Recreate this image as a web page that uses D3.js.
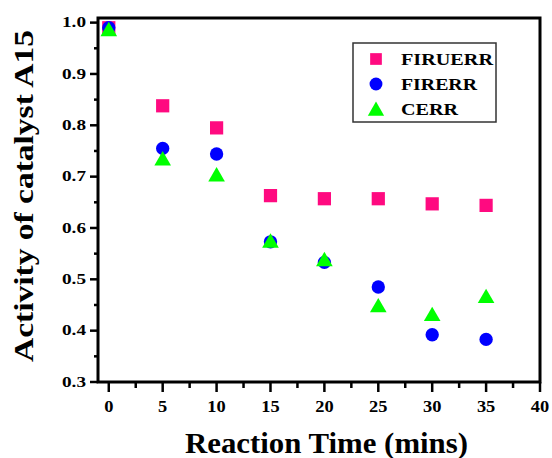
<!DOCTYPE html>
<html><head><meta charset="utf-8">
<script src="https://cdn.jsdelivr.net/npm/d3@7"></script>
<style>body{margin:0;background:#fff}svg{display:block}</style>
</head><body>
<script>
const times = [0, 5, 10, 15, 20, 25, 30, 35];
const firuerr = [0.990, 0.838, 0.795, 0.663, 0.657, 0.657, 0.647, 0.644];
const firerr  = [0.990, 0.755, 0.744, 0.573, 0.533, 0.485, 0.392, 0.383];
const cerr    = [0.983, 0.731, 0.700, 0.571, 0.535, 0.445, 0.428, 0.463];
const xTicks = [0, 5, 10, 15, 20, 25, 30, 35, 40];
const yTicks = [0.3, 0.4, 0.5, 0.6, 0.7, 0.8, 0.9, 1.0];
const seriesNames = ["FIRUERR", "FIRERR", "CERR"];

const W = 552, H = 458;
const L = 98, R = 540, T = 18, B = 382;
const svg = d3.select("body").append("svg").attr("width", W).attr("height", H);
const font = "'Liberation Serif','Times New Roman',serif";

const x = d3.scaleLinear().domain([-1, 40]).range([L, R]);
const y = d3.scaleLinear().domain([0.3, 1.009]).range([B, T]);

// minor ticks
const xMinor = d3.range(2.5, 40, 5);
const yMinor = d3.range(0.35, 1.0, 0.1);
svg.append("g").selectAll("line").data(xMinor).join("line")
  .attr("x1", d => x(d)).attr("x2", d => x(d)).attr("y1", B).attr("y2", B + 6)
  .attr("stroke", "#000").attr("stroke-width", 2.5);
svg.append("g").selectAll("line").data(xTicks).join("line")
  .attr("x1", d => x(d)).attr("x2", d => x(d)).attr("y1", B).attr("y2", B + 10)
  .attr("stroke", "#000").attr("stroke-width", 2.5);
svg.append("g").selectAll("line").data(yMinor).join("line")
  .attr("x1", L - 4).attr("x2", L).attr("y1", d => y(d)).attr("y2", d => y(d))
  .attr("stroke", "#000").attr("stroke-width", 2.5);
svg.append("g").selectAll("line").data(yTicks).join("line")
  .attr("x1", L - 8).attr("x2", L).attr("y1", d => y(d)).attr("y2", d => y(d))
  .attr("stroke", "#000").attr("stroke-width", 2.5);

// frame
svg.append("rect").attr("x", L).attr("y", T).attr("width", R - L).attr("height", B - T)
  .attr("fill", "none").attr("stroke", "#000").attr("stroke-width", 3);

// tick labels
svg.append("g").selectAll("text").data(xTicks).join("text")
  .attr("x", d => x(d)).attr("y", 412).attr("text-anchor", "middle")
  .attr("font-family", font).attr("font-weight", "bold").attr("font-size", 16)
  .attr("textLength", d => String(d).length * 9.2).attr("lengthAdjust", "spacingAndGlyphs")
  .text(d => d);
svg.append("g").selectAll("text").data(yTicks).join("text")
  .attr("x", 86).attr("y", d => y(d) + 4.8).attr("text-anchor", "end")
  .attr("font-family", font).attr("font-weight", "bold").attr("font-size", 14)
  .attr("textLength", 24).attr("lengthAdjust", "spacingAndGlyphs")
  .text(d => d.toFixed(1));

// axis titles
svg.append("text").attr("x", 326.5).attr("y", 453).attr("text-anchor", "middle")
  .attr("font-family", font).attr("font-weight", "bold").attr("font-size", 29)
  .attr("textLength", 283).attr("lengthAdjust", "spacingAndGlyphs")
  .text("Reaction Time (mins)");
svg.append("text").attr("transform", "translate(33,196) rotate(-90)").attr("text-anchor", "middle")
  .attr("font-family", font).attr("font-weight", "bold").attr("font-size", 27)
  .attr("textLength", 332).attr("lengthAdjust", "spacingAndGlyphs")
  .text("Activity of catalyst A15");

// data
const colors = ["#ff0a80", "#0000ff", "#00ff00"];
const symbols = [d3.symbol().type(d3.symbolSquare).size(175),
                 d3.symbol().type(d3.symbolCircle).size(140),
                 d3.symbol().type(d3.symbolTriangle).size(120)];
const series = [firuerr, firerr, cerr];
series.forEach((vals, i) => {
  svg.append("g").selectAll("path").data(times).join("path")
    .attr("transform", (t, j) => `translate(${x(t)},${y(vals[j])})`)
    .attr("d", symbols[i]()).attr("fill", colors[i]);
});

// legend
svg.append("rect").attr("x", 353).attr("y", 43).attr("width", 143).attr("height", 79)
  .attr("fill", "#fff").attr("stroke", "#333").attr("stroke-width", 1.5);
const legY = [59, 84, 111];
const legBase = [65, 90, 115];
const legLen = [92, 76, 57];
const legSym = [d3.symbol().type(d3.symbolSquare).size(137),
                d3.symbol().type(d3.symbolCircle).size(130),
                d3.symbol().type(d3.symbolTriangle).size(115)];
seriesNames.forEach((n, i) => {
  svg.append("path").attr("transform", `translate(376,${legY[i]})`)
    .attr("d", legSym[i]()).attr("fill", colors[i]);
  svg.append("text").attr("x", 401).attr("y", legBase[i])
    .attr("font-family", font).attr("font-weight", "bold").attr("font-size", 17.5)
    .attr("textLength", legLen[i]).attr("lengthAdjust", "spacingAndGlyphs")
    .text(n);
});
</script>
</body></html>
